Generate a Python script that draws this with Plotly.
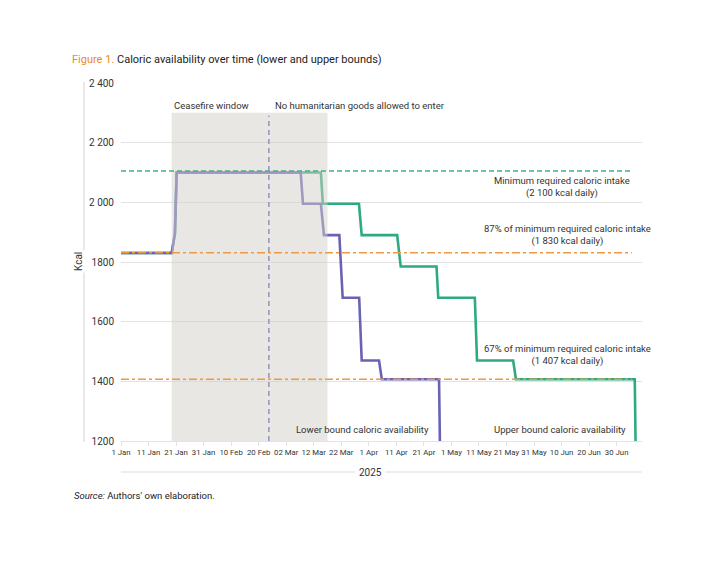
import plotly.graph_objects as go

# ---------------- data ----------------
lower_dates = ["2025-01-01", "2025-01-19 10:00", "2025-01-20 14:00", "2025-01-21 05:00",
               "2025-03-07 06:00", "2025-03-08 02:00", "2025-03-14 14:00", "2025-03-15 17:00",
               "2025-03-21 07:00", "2025-03-22 12:00", "2025-03-28 12:00", "2025-03-29 10:00",
               "2025-04-04 17:00", "2025-04-05 17:00", "2025-04-26 12:00", "2025-04-26 23:00"]
lower_kcal = [1830, 1830, 1896, 2100, 2100, 1995, 1995, 1890, 1890, 1680, 1680, 1470,
              1470, 1407, 1407, 1100]

upper_dates = ["2025-01-01", "2025-01-19 10:00", "2025-01-20 14:00", "2025-01-21 05:00",
               "2025-03-14 14:00", "2025-03-15 07:00", "2025-03-28 10:00", "2025-03-29 10:00",
               "2025-04-11 07:00", "2025-04-12 14:00", "2025-04-25 14:00", "2025-04-26 05:00",
               "2025-05-09 12:00", "2025-05-10 07:00", "2025-05-23 10:00", "2025-05-24 10:00",
               "2025-07-06 14:00", "2025-07-07 00:00"]
upper_kcal = [1830, 1830, 1896, 2100, 2100, 1995, 1995, 1890, 1890, 1785, 1785, 1680,
              1680, 1470, 1470, 1407, 1407, 1100]

ref_min = 2105
ref_87 = 1831
ref_67 = 1407
ref_start, ref_end = "2025-01-01", "2025-07-05 12:00"

ceasefire_start, ceasefire_end = "2025-01-19 10:00", "2025-03-17"
shade_top = 2300
blockade_date = "2025-02-23 17:00"

tick_dates = ["2025-01-01", "2025-01-11", "2025-01-21", "2025-01-31", "2025-02-10", "2025-02-20",
              "2025-03-02", "2025-03-12", "2025-03-22", "2025-04-01", "2025-04-11", "2025-04-21",
              "2025-05-01", "2025-05-11", "2025-05-21", "2025-05-31", "2025-06-10", "2025-06-20",
              "2025-06-30"]
tick_labels = ["1 Jan", "11 Jan", "21 Jan", "31 Jan", "10 Feb", "20 Feb", "02 Mar", "12 Mar",
               "22 Mar", "1 Apr", "11 Apr", "21 Apr", "1 May", "11 May", "21 May", "31 May",
               "10 Jun", "20 Jun", "30 Jun"]
y_ticks = [1200, 1400, 1600, 1800, 2000, 2200, 2400]
y_labels = ["1200", "1400", "1600", "1800", "2 000", "2 200", "2 400"]

# ---------------- style ----------------
COND = "Roboto, sans-serif"
PURPLE = "#6a63b4"
GREEN = "#2eaa80"
ORANGE = "#ec9a45"
GRID = "#e3e3e3"
TXT = "#333333"
ANN_SIZE = 9.5

L, R, T, B = 121, 78, 83, 121
W, H = 720, 562
pw, ph = W - L - R, H - T - B

def px_x(px):
    return (px - L) / pw

def px_y(py):
    return (H - B - py) / ph

fig = go.Figure()
fig.add_trace(go.Scatter(x=upper_dates, y=upper_kcal, mode="lines",
                         line=dict(color=GREEN, width=2.6), showlegend=False, hoverinfo="skip"))
fig.add_trace(go.Scatter(x=lower_dates, y=lower_kcal, mode="lines",
                         line=dict(color=PURPLE, width=2.6), showlegend=False, hoverinfo="skip"))

shapes = []
shapes.append(dict(type="rect", xref="x", yref="y", x0=ceasefire_start, x1=ceasefire_end,
                   y0=1200, y1=shade_top, fillcolor="rgb(209,207,200)", opacity=0.5,
                   line=dict(width=0), layer="above"))
shapes.append(dict(type="line", xref="x", yref="y", x0=ref_start, x1=ref_end, y0=ref_min, y1=ref_min,
                   line=dict(color="#3db58b", width=1.4, dash="5px,3px"), layer="above"))
shapes.append(dict(type="line", xref="x", yref="y", x0=ref_start, x1=ref_end, y0=ref_87, y1=ref_87,
                   line=dict(color=ORANGE, width=1.4, dash="8px,3px,3px,3px"), layer="above"))
shapes.append(dict(type="line", xref="x", yref="y", x0=ref_start, x1=ref_end, y0=ref_67, y1=ref_67,
                   line=dict(color=ORANGE, width=1.4, dash="8px,3px,3px,3px"), layer="above"))
shapes.append(dict(type="line", xref="x", yref="y", x0=blockade_date, x1=blockade_date,
                   y0=1200, y1=shade_top - 10,
                   line=dict(color="#8f8bc0", width=1.4, dash="5px,4px"), layer="above"))
shapes.append(dict(type="line", xref="paper", yref="paper", x0=px_x(84), x1=px_x(84),
                   y0=px_y(442), y1=px_y(82), line=dict(color="#e2e2e2", width=1.5)))
shapes.append(dict(type="line", xref="paper", yref="paper", x0=0, x1=1, y0=px_y(472), y1=px_y(472),
                   line=dict(color="#dddddd", width=1)))

ann = []
ann.append(dict(xref="paper", yref="paper", x=px_x(370), y=px_y(472), text="2025", showarrow=False,
                font=dict(family=COND, size=10, color=TXT), bgcolor="white", borderpad=3,
                xanchor="center", yanchor="middle"))
ann.append(dict(xref="paper", yref="paper", x=px_x(78), y=px_y(262), text="Kcal", textangle=-90,
                showarrow=False, font=dict(family=COND, size=10, color=TXT), bgcolor="white",
                xanchor="center", yanchor="middle"))
ann.append(dict(xref="x", yref="paper", x=ceasefire_start, y=px_y(105), text="Ceasefire window",
                showarrow=False, xanchor="left", yanchor="middle", xshift=0,
                font=dict(family=COND, size=ANN_SIZE, color=TXT)))
ann.append(dict(xref="x", yref="paper", x=blockade_date, y=px_y(105),
                text="No humanitarian goods allowed to enter",
                showarrow=False, xanchor="left", yanchor="middle", xshift=4,
                font=dict(family=COND, size=ANN_SIZE, color=TXT)))
ann.append(dict(xref="paper", yref="paper", x=px_x(562), y=px_y(187),
                text="Minimum required caloric intake<br>(2 100 kcal daily)",
                showarrow=False, xanchor="center", yanchor="middle", align="center",
                font=dict(family=COND, size=ANN_SIZE, color=TXT)))
ann.append(dict(xref="paper", yref="paper", x=px_x(567), y=px_y(235),
                text="87% of minimum required caloric intake<br>(1 830 kcal daily)",
                showarrow=False, xanchor="center", yanchor="middle", align="center",
                font=dict(family=COND, size=ANN_SIZE, color=TXT)))
ann.append(dict(xref="paper", yref="paper", x=px_x(567), y=px_y(355),
                text="67% of minimum required caloric intake<br>(1 407 kcal daily)",
                showarrow=False, xanchor="center", yanchor="middle", align="center",
                font=dict(family=COND, size=ANN_SIZE, color=TXT)))
ann.append(dict(xref="paper", yref="paper", x=px_x(431), y=px_y(429),
                text="Lower bound caloric availability",
                showarrow=False, xanchor="right", yanchor="middle",
                font=dict(family=COND, size=ANN_SIZE, color=TXT)))
ann.append(dict(xref="paper", yref="paper", x=px_x(628), y=px_y(429),
                text="Upper bound caloric availability",
                showarrow=False, xanchor="right", yanchor="middle",
                font=dict(family=COND, size=ANN_SIZE, color=TXT)))
ann.append(dict(xref="paper", yref="paper", x=px_x(72), y=px_y(495),
                text="<i>Source:</i> Authors' own elaboration.",
                showarrow=False, xanchor="left", yanchor="middle",
                font=dict(family="Roboto, sans-serif", size=9.5, color="#222222")))

fig.update_layout(
    width=W, height=H,
    margin=dict(l=L, r=R, t=T, b=B),
    paper_bgcolor="white", plot_bgcolor="white",
    title=dict(text="<span style='color:#ee8a1e'>Figure 1.</span> Caloric availability over time (lower and upper bounds)",
               x=72 / W, xanchor="left", xref="container", y=1 - 59 / H, yanchor="middle", yref="container",
               font=dict(family="Roboto, sans-serif", size=11, color="#222222")),
    shapes=shapes, annotations=ann,
    xaxis=dict(type="date", range=["2025-01-01", "2025-07-09 05:00"], tickvals=tick_dates,
               ticktext=tick_labels, tickangle=0, showgrid=False, showline=True, linecolor=GRID,
               linewidth=1, ticks="outside", ticklen=4, tickcolor=GRID, zeroline=False,
               tickfont=dict(family=COND, size=7.8, color=TXT)),
    yaxis=dict(range=[1200, 2400], tickvals=y_ticks, ticktext=y_labels, showgrid=True,
               gridcolor=GRID, gridwidth=1, zeroline=False, showline=False,
               ticks="outside", ticklen=4, tickcolor="white",
               tickfont=dict(family=COND, size=10, color=TXT)),
)

fig.write_html("out.html")
